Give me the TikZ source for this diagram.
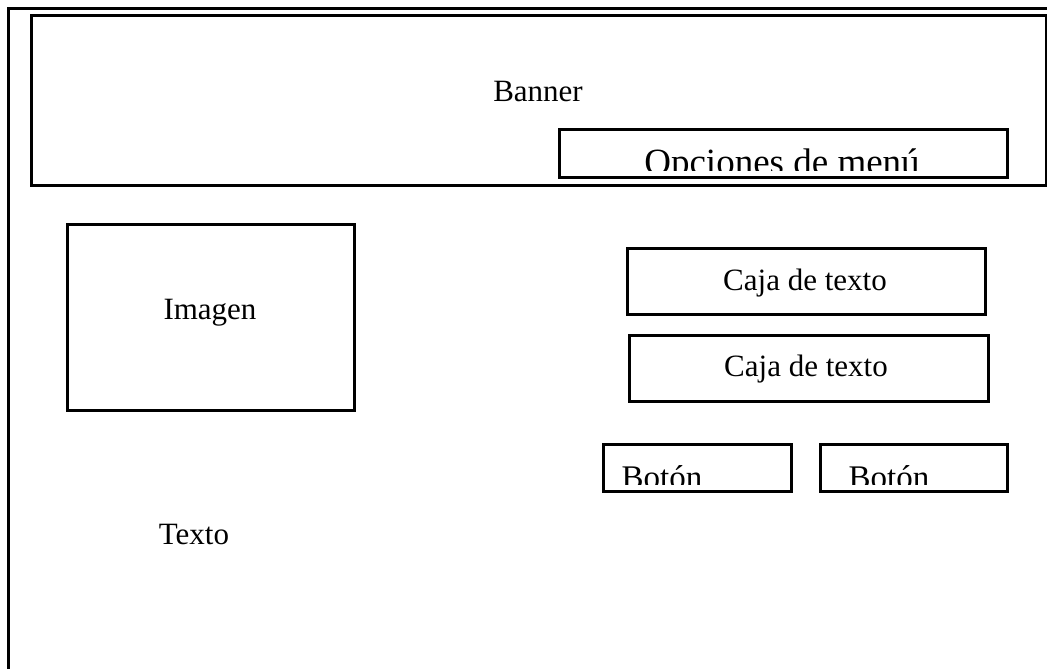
\documentclass[tikz,border=0pt]{standalone}
\usepackage{fontspec}
\setmainfont{Liberation Serif}

\tikzset{
  caja/.style={draw, line width=1.5pt, inner sep=0pt, anchor=north west},
  etiqueta/.style={anchor=base, inner sep=0pt, font=\fontsize{15.5}{18}\selectfont},
}

\begin{document}
\begin{tikzpicture}[x=0.5pt, y=-0.5pt]
      \useasboundingbox (0,0) rectangle (1047,668);
      % marco de la pagina
      \draw[line width=1.5pt] (8,680) -- (8,9) -- (1060,9);
      % banner
      \node[caja, minimum width=507.5pt, minimum height=85pt] (banner) at (30,14) {};
      \node[etiqueta] (tbanner) at (538,102) {Banner};
      \begin{scope}
        \clip (558,128) rectangle (1006,171);
        \node[etiqueta, font=\fontsize{18.5}{21}\selectfont] (tmenu) at (782,175) {Opciones de menú};
      \end{scope}
      \node[caja, minimum width=224pt, minimum height=24pt] (menu) at (558,128) {};
      % imagen y texto
      \node[caja, minimum width=143.5pt, minimum height=93pt] (imagen) at (66,223) {};
      \node[etiqueta] (timagen) at (210,319) {Imagen};
      \node[etiqueta] (texto) at (194,544) {Texto};
      % cajas de texto
      \node[caja, minimum width=179pt, minimum height=33pt] (caja1) at (626,247) {};
      \node[etiqueta] (tcaja1) at (805,290) {Caja de texto};
      \node[caja, minimum width=179.5pt, minimum height=33pt] (caja2) at (628,334) {};
      \node[etiqueta] (tcaja2) at (806,376) {Caja de texto};
      % botones
      \begin{scope}
        \clip (602,443) rectangle (1006,484);
        \node[etiqueta, font=\fontsize{16.5}{19}\selectfont] (tboton1) at (662,488) {Botón};
        \node[etiqueta, font=\fontsize{16.5}{19}\selectfont] (tboton2) at (889,488) {Botón};
      \end{scope}
      \node[caja, minimum width=94pt, minimum height=23.5pt] (boton1) at (602,443) {};
      \node[caja, minimum width=93.5pt, minimum height=23.5pt] (boton2) at (819,443) {};
    \end{tikzpicture}
\end{document}
